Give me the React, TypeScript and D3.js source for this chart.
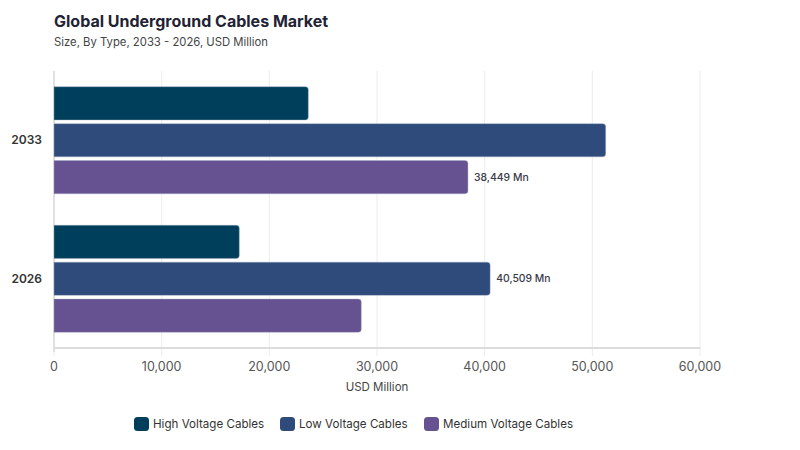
import React from "react";
import * as d3 from "d3";

const years = ["2033", "2026"];
const seriesNames = ["High Voltage Cables", "Low Voltage Cables", "Medium Voltage Cables"];
const seriesColors = ["#003f5c", "#2f4b7c", "#665191"];
const highVoltage = [23620, 17210];
const lowVoltage = [51240, 40509];
const mediumVoltage = [38449, 28540];
const xTicks = [0, 10000, 20000, 30000, 40000, 50000, 60000];
// labelled bars: [yearIndex, seriesIndex]
const labelled: [number, number][] = [[0, 2], [1, 1]];

const W = 800;
const H = 450;
const M = { left: 54, right: 100, top: 71, bottom: 102 };
const FONT = "Inter, 'DejaVu Sans', sans-serif";

function barPath(x0: number, x1: number, y: number, h: number, r: number) {
  const rr = Math.min(r, (x1 - x0) / 2, h / 2);
  return `M${x0},${y}H${x1 - rr}Q${x1},${y} ${x1},${y + rr}V${y + h - rr}Q${x1},${y + h} ${x1 - rr},${y + h}H${x0}Z`;
}

export default function App() {
  const series = [highVoltage, lowVoltage, mediumVoltage];
  const x = d3.scaleLinear().domain([0, 60000]).range([M.left, W - M.right]);
  const y0 = d3
    .scaleBand<string>()
    .domain(years)
    .range([M.top, H - M.bottom])
    .paddingInner(0.227)
    .paddingOuter(0.1135);
  const y1 = d3
    .scaleBand<number>()
    .domain([0, 1, 2])
    .range([0, y0.bandwidth()])
    .paddingInner(0.1)
    .paddingOuter(0);
  const fmt = d3.format(",");
  const plotBottom = H - M.bottom;

  return (
    <svg width={W} height={H} style={{ display: "block", margin: "-8px", fontFamily: FONT }}>
      <rect width={W} height={H} fill="#fff" />
      <text x={54} y={27} fontSize={16} fontWeight={700} fill="#1f2333">
        Global Underground Cables Market
      </text>
      <text x={54} y={46} fontSize={11.3} fill="#444">
        Size, By Type, 2033 - 2026, USD Million
      </text>

      {xTicks.map((t) => (
        <line key={t} x1={x(t)} x2={x(t)} y1={M.top} y2={plotBottom + 8} stroke="#ececec" strokeWidth={1} />
      ))}
      <line x1={M.left} x2={M.left} y1={M.top} y2={plotBottom + 4} stroke="#d9d9d9" strokeWidth={1.5} />
      <line x1={M.left} x2={x(60000)} y1={plotBottom} y2={plotBottom} stroke="#dcdcdc" strokeWidth={2} />

      {xTicks.map((t) => (
        <text key={t} x={x(t)} y={371} fontSize={12.5} fill="#555" textAnchor="middle">
          {fmt(t)}
        </text>
      ))}
      <text x={(x(0) + x(60000)) / 2} y={391} fontSize={11.5} fill="#444" textAnchor="middle">
        USD Million
      </text>

      {years.map((yr, yi) => (
        <g key={yr} transform={`translate(0,${y0(yr)})`}>
          <text x={42} y={y0.bandwidth() / 2} dy="0.35em" textAnchor="end" fontSize={12} fontWeight={600} fill="#333">
            {yr}
          </text>
          {series.map((s, si) => {
            const yy = y1(si)!;
            const h = y1.bandwidth();
            return (
              <g key={si}>
                <path
                  d={barPath(x(0), x(s[yi]), yy, h, 3)}
                  fill={seriesColors[si]}
                  stroke="#9fb0c4"
                  strokeOpacity={0.5}
                  strokeWidth={0.8}
                />
                {labelled.some(([a, b]) => a === yi && b === si) && (
                  <text x={x(s[yi]) + 6} y={yy + h / 2} dy="0.35em" fontSize={10.4} fontWeight={500} fill="#3a3a48">
                    {fmt(s[yi])} Mn
                  </text>
                )}
              </g>
            );
          })}
        </g>
      ))}

      {seriesNames.map((n, i) => {
        const lx = [134, 280, 424][i];
        return (
          <g key={n} transform={`translate(${lx},417)`}>
            <rect width={15} height={14} rx={3.5} fill={seriesColors[i]} />
            <text x={19} y={7} dy="0.35em" fontSize={11.6} fill="#333">
              {n}
            </text>
          </g>
        );
      })}
    </svg>
  );
}
